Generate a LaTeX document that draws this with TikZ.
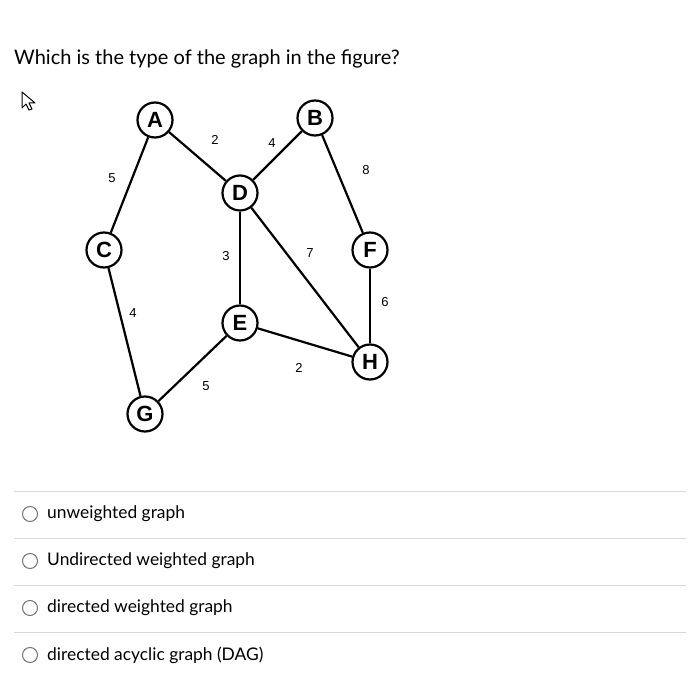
\documentclass[tikz,border=0pt]{standalone}
\usepackage{fontspec}
\setmainfont{Lato}
\newfontfamily\graphfont{Liberation Sans}
\usetikzlibrary{positioning}

\tikzset{
  vertex/.style={circle, draw, line width=2.2pt, minimum size=35pt, inner sep=0pt, font=\graphfont\bfseries\fontsize{22}{22}\selectfont},
  wgt/.style={font=\graphfont\fontsize{13}{13}\selectfont},
  sep/.style={draw=black!15, line width=0.9pt},
  radio/.style={circle, draw=black!55, line width=1pt, minimum size=15pt, inner sep=0pt},
  answer/.style={right=9pt of #1, font=\fontsize{17.4}{20}\selectfont, inner sep=0pt, anchor=west}
}

\begin{document}
\begin{tikzpicture}[x=1pt, y=-1pt]
  \useasboundingbox (0,0) rectangle (699,684);
  \node (q) [anchor=west, font=\fontsize{20}{24}\selectfont, inner sep=0pt] at (14,59) {Which is the type of the graph in the figure?};
  % cursor
  \draw [line width=1pt, line join=round] (22,92) -- (22,108) -- (26,104) -- (29,110) -- (32,109) -- (29,103) -- (35,103) -- cycle;

  % graph
  \node (A) [vertex] at (155,120) {A};
  \node (B) [vertex] at (315,118) {B};
  \node (C) [vertex] at (104,250) {C};
  \node (D) [vertex] at (240,193) {D};
  \node (F) [vertex] at (370,250) {F};
  \node (E) [vertex] at (240,323) {E};
  \node (H) [vertex] at (370,362) {H};
  \node (G) [vertex] at (145,414) {G};

  \path [line width=2.2pt]
  (A) edge (C)
  (A) edge (D)
  (B) edge (D)
  (B) edge (F)
  (D) edge (E)
  (D) edge (H)
  (F) edge (H)
  (E) edge (H)
  (E) edge (G)
  (C) edge (G)
  ;

  \node [wgt] at (112,178) {5};
  \node [wgt] at (215,140) {2};
  \node [wgt] at (272,143) {4};
  \node [wgt] at (366,170) {8};
  \node [wgt] at (226,256) {3};
  \node [wgt] at (310,253) {7};
  \node [wgt] at (385,302) {6};
  \node [wgt] at (133,313) {4};
  \node [wgt] at (299,368) {2};
  \node [wgt] at (206,386) {5};

  % answers
  \foreach \y in {491,538,585,632}
    \draw [sep] (14,\y) -- (686,\y);
  \node (r1) [radio] at (30,514) {};
  \node (r2) [radio] at (30,561) {};
  \node (r3) [radio] at (30,608) {};
  \node (r4) [radio] at (30,655) {};
  \node (t1) [answer=r1] {unweighted graph};
  \node (t2) [answer=r2] {Undirected weighted graph};
  \node (t3) [answer=r3] {directed weighted graph};
  \node (t4) [answer=r4] {directed acyclic graph (DAG)};
\end{tikzpicture}
\end{document}
